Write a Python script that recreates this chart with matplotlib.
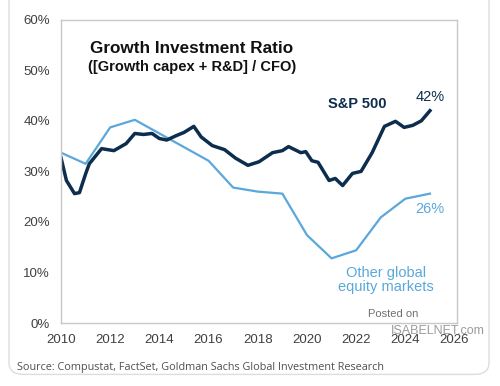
import matplotlib.pyplot as plt
from matplotlib.patches import FancyBboxPatch

# S&P 500 growth investment ratio (%)
sp_years = [2010.00, 2010.22, 2010.55, 2010.75, 2011.00, 2011.15, 2011.65, 2012.15,
            2012.65, 2013.00, 2013.35, 2013.70, 2014.00, 2014.30, 2014.70, 2015.00,
            2015.40, 2015.70, 2016.15, 2016.65, 2017.10, 2017.60, 2018.05, 2018.60,
            2019.00, 2019.25, 2019.75, 2019.95, 2020.20, 2020.45, 2020.90, 2021.15,
            2021.45, 2021.85, 2022.20, 2022.65, 2023.15, 2023.60, 2023.95, 2024.30,
            2024.65, 2025.00]
sp_vals = [32.7, 28.2, 25.6, 25.8, 29.5, 31.5, 34.5, 34.1,
           35.5, 37.5, 37.3, 37.5, 36.5, 36.2, 37.1, 37.7,
           38.9, 36.8, 35.1, 34.3, 32.6, 31.2, 31.9, 33.7,
           34.1, 34.9, 33.7, 33.9, 32.1, 31.8, 28.2, 28.6,
           27.2, 29.6, 30.0, 33.7, 38.9, 39.9, 38.7, 39.1,
           40.0, 42.0]

# Other global equity markets (%)
other_years = list(range(2010, 2026))
other_vals = [33.7, 31.5, 38.7, 40.2, 37.5, 34.8, 32.1, 26.8,
              26.0, 25.6, 17.4, 12.8, 14.4, 20.9, 24.6, 25.6]

dark = "#0c2d4e"
light = "#5aa8db"

fig = plt.figure(figsize=(5, 3.86), dpi=100)
fig.patch.set_facecolor("white")

# card outline behind everything
card = FancyBboxPatch((0.018, 0.03), 0.96, 1.0, boxstyle="round,pad=0,rounding_size=0.03",
                      transform=fig.transFigure, facecolor="white", edgecolor="#dddddd",
                      linewidth=1.0, zorder=-10)
fig.patches.append(card)

ax = fig.add_axes([0.122, 0.163, 0.792, 0.786])
ax.set_zorder(5)
ax.set_facecolor("none")

ax.plot(other_years, other_vals, color=light, lw=1.6, solid_joinstyle="round")
ax.plot(sp_years, sp_vals, color=dark, lw=2.5, solid_joinstyle="round")

ax.set_xlim(2010, 2026.1)
ax.set_ylim(0, 60)
ax.set_xticks(range(2010, 2027, 2))
ax.set_yticks(range(0, 61, 10))
ax.set_yticklabels([f"{v}%" for v in range(0, 61, 10)])
ax.tick_params(length=0, labelsize=9.5, labelcolor="#404040", pad=8)
for lab in ax.get_xticklabels() + ax.get_yticklabels():
    lab.set_family("Liberation Sans")
for s in ax.spines.values():
    s.set_color("#c8c8c8")
    s.set_linewidth(1.0)

# title
ax.text(0.33, 0.905, "Growth Investment Ratio", transform=ax.transAxes, ha="center",
        va="center", fontsize=12.3, fontweight="bold", family="Liberation Sans", color="#111111")
ax.text(0.33, 0.845, "([Growth capex + R&D] / CFO)", transform=ax.transAxes, ha="center",
        va="center", fontsize=10.5, fontweight="bold", family="Liberation Sans", color="#111111")

# series labels
ax.text(2022.05, 43.3, "S&P 500", ha="center", va="center", fontsize=10.5,
        fontweight="bold", family="Liberation Sans", color=dark)
ax.text(2025.0, 44.7, "42%", ha="center", va="center", fontsize=10.5,
        family="Liberation Sans", color=dark)
ax.text(2025.0, 22.5, "26%", ha="center", va="center", fontsize=10.5,
        family="Liberation Sans", color=light)
ax.text(2023.2, 8.5, "Other global\nequity markets", ha="center", va="center",
        fontsize=10.5, family="Liberation Sans", color=light, linespacing=1.05)

# watermark
ax.text(2023.5, 1.8, "Posted on", ha="center", va="center", fontsize=8,
        family="Liberation Sans", color="#707070")
ax.text(2023.4, -1.5, "ISABELNET.com", ha="left", va="center", fontsize=9,
        family="Liberation Sans", color="#8a8a8a", alpha=0.85, clip_on=False)

fig.text(0.034, 0.048, "Source: Compustat, FactSet, Goldman Sachs Global Investment Research",
         ha="left", va="center", fontsize=7.8, family="Open Sans", color="#505050")

fig.savefig("out.png", dpi=100)
